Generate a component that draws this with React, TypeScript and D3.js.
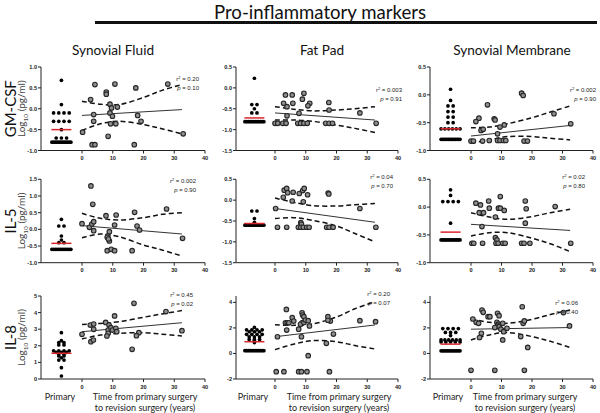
import React from "react";
import * as d3 from "d3";

// ---------- text ----------
const chartTitle = "Pro-inflammatory markers";
const columns = ["Synovial Fluid", "Fat Pad", "Synovial Membrane"];
const markers = ["GM-CSF", "IL-5", "IL-8"];
const xTicks = [0, 10, 20, 30, 40];
const primaryLabel = "Primary";
const timeLabel = ["Time from primary surgery", "to revision surgery (years)"];

// ---------- axes ----------
const yDomains = [
  [[-1, 1], [-1.5, 0.5], [-1, 0.5]],
  [[-1, 1.5], [-1.5, 0.5], [-1, 0.5]],
  [[0, 5], [-2, 4.5], [-2, 4.5]],
];
const yTicks = [
  [[-1, -0.5, 0, 0.5, 1], [-1.5, -1, -0.5, 0, 0.5], [-1, -0.5, 0, 0.5]],
  [[-1, -0.5, 0, 0.5, 1, 1.5], [-1.5, -1, -0.5, 0, 0.5], [-1, -0.5, 0, 0.5]],
  [[0, 1, 2, 3, 4, 5], [-2, 0, 2, 4], [-2, 0, 2, 4]],
];

// ---------- statistics ----------
const r2Values = [["0.20", "0.003", "0.002"], ["0.002", "0.04", "0.02"], ["0.45", "0.20", "0.06"]];
const pValues = [["0.10", "0.91", "0.90"], ["0.90", "0.70", "0.80"], ["0.02", "0.07", "0.40"]];
const medians = [[-0.5, -0.72, -0.61], [-0.42, -0.56, -0.45], [1.55, 0.92, 0.73]];

// ---------- primary (log10 pg/ml) ----------
const gmSfPrimary = [0.68, 0.1, -0.1, -0.1, -0.1, -0.1, -0.3, -0.3, -0.3, -0.3, -0.5, -0.7, -0.7, -0.7,
  -0.8, -0.8, -0.8, -0.8, -0.8, -0.8, -0.8, -0.8, -0.8, -0.8, -0.8, -0.8];
const gmFpPrimary = [0.23, -0.4, -0.4, -0.5, -0.6, -0.6,
  -0.81, -0.81, -0.81, -0.81, -0.81, -0.81, -0.81, -0.81, -0.81, -0.81, -0.81, -0.81];
const gmSmPrimary = [0.1, -0.1, -0.2, -0.2, -0.3, -0.3, -0.4, -0.4, -0.5, -0.5,
  -0.61, -0.61, -0.61, -0.61, -0.61, -0.61,
  -0.8, -0.8, -0.8, -0.8, -0.8, -0.8, -0.8, -0.8, -0.8, -0.8, -0.8, -0.8, -0.8, -0.8];
const il5SfPrimary = [0.3, 0.1, 0.1, -0.2, -0.32, -0.4, -0.4,
  -0.6, -0.6, -0.6, -0.6, -0.6, -0.6, -0.6, -0.6, -0.6, -0.6, -0.6, -0.6];
const il5FpPrimary = [-0.26, -0.26, -0.44, -0.53,
  -0.6, -0.6, -0.6, -0.6, -0.6, -0.6, -0.6, -0.6, -0.6, -0.6, -0.6, -0.6];
const il5SmPrimary = [0.31, 0.21, 0.1, 0.1, 0.1, 0.1, -0.29,
  -0.59, -0.59, -0.59, -0.59, -0.59, -0.59, -0.59, -0.59, -0.59, -0.59, -0.59, -0.59, -0.59, -0.59];
const il8SfPrimary = [2.79, 2.31, 2.2, 2.2, 2.05, 2.05, 1.7, 1.7, 1.7, 1.7, 1.6, 1.6, 1.6, 1.5, 1.5,
  1.39, 1.39, 1.28, 1.14, 1.14, 0.68, 0.18];
const il8FpPrimary = [2.04, 1.85, 1.85, 1.85, 1.85, 1.7, 1.7, 1.7, 1.5, 1.5, 1.5, 1.5, 1.3, 1.3, 1.3,
  1.1, 1.1, 1.1, 1.0, 0.85,
  0.22, 0.22, 0.22, 0.22, 0.22, 0.22, 0.22, 0.22, 0.22, 0.22, 0.22, 0.22];
const il8SmPrimary = [1.95, 1.95, 1.95, 1.95, 1.65, 1.65, 1.65, 1.4, 1.06, 1.06, 1.06, 1.06, 1.06, 1.06,
  0.9, 0.9, 0.9, 0.9, 0.9,
  0.21, 0.21, 0.21, 0.21, 0.21, 0.21, 0.21, 0.21, 0.21, 0.21, 0.21, 0.21, 0.21];

// ---------- revision: [years since primary, log10 pg/ml] ----------
const gmSfPoints = [[4.2, 0.58], [10.7, 0.59], [27.9, 0.59], [17.5, 0.5], [7.9, 0.4], [7.9, 0.35], [2.8, 0.22],
  [9.1, 0.11], [9.6, 0.02], [11.5, 0.04], [3.8, -0.14], [9.1, -0.1], [9.9, -0.18], [18.1, -0.16], [3.8, -0.3],
  [19.2, -0.3], [9.3, -0.36], [11, -0.36], [0.2, -0.56], [32.9, -0.6], [8.5, -0.66], [3.3, -0.86], [4.2, -0.86], [17, -0.86]];
const gmFpPoints = [[3.4, -0.17], [5.6, -0.17], [9.4, -0.13], [8.9, -0.27], [11.3, -0.37], [10.7, -0.43], [2.8, -0.37],
  [3.9, -0.45], [5.8, -0.37], [17.5, -0.35], [17.6, -0.53], [27.6, -0.6], [7.8, -0.61], [3.9, -0.67], [0, -0.85],
  [0.9, -0.85], [2.5, -0.85], [3.6, -0.85], [7.4, -0.85], [8.3, -0.85], [9.4, -0.85], [10.5, -0.85], [16.5, -0.85],
  [17.6, -0.85], [18.7, -0.85], [32.9, -0.85]];
const gmSmPoints = [[16.6, 0.03], [17.1, -0.01], [5.4, -0.18], [2.6, -0.42], [1.6, -0.48], [7.6, -0.43], [7.9, -0.45],
  [10.9, -0.54], [9.5, -0.58], [3.3, -0.64], [4.0, -0.62], [27.2, -0.34], [32.7, -0.52], [8.7, -0.7], [0, -0.83],
  [0.8, -0.83], [3.8, -0.83], [6, -0.82], [8.7, -0.82], [9.5, -0.82], [10.6, -0.82], [11.4, -0.82], [17.4, -0.83], [18.5, -0.83]];
const il5SfPoints = [[2.9, 1.3], [3.5, 0.75], [0, 0.17], [2.4, 0.06], [3.2, 0.16], [3.8, 0.23], [3.8, -0.04], [7.8, 0.41],
  [11.1, 0.43], [17.1, 0.51], [27.5, 0.61], [10.6, 0.13], [17.9, 0.1], [18.7, -0.02], [8.9, -0.07], [8.4, -0.2],
  [8.2, -0.24], [8.9, -0.35], [8.6, -0.29], [32.7, -0.27], [8.2, -0.64], [9.5, -0.6], [10.6, -0.64], [16.3, -0.64]];
const il5FpPoints = [[3.0, 0.24], [3.8, 0.28], [4.1, 0.18], [5.9, 0.19], [7.9, 0.16], [9.0, 0.23], [9.5, 0.28], [10.6, 0.13],
  [17.3, 0.17], [17.5, 0.15], [2.7, 0.07], [5.6, -0.02], [9.2, -0.04], [0.2, -0.2], [27.6, -0.2], [8.4, -0.54], [8.6, -0.58],
  [0.8, -0.65], [3.8, -0.65], [7.6, -0.65], [8.4, -0.65], [9.2, -0.65], [10.3, -0.65], [11.1, -0.65], [16.8, -0.65],
  [17.6, -0.65], [18.9, -0.65], [32.8, -0.65]];
const il5SmPoints = [[1.6, 0.07], [3.1, 0.04], [5.8, 0.11], [9.6, 0.19], [17.8, 0.11], [27.6, 0.01], [6, -0.02], [9, -0.02],
  [9.6, -0.02], [10.9, -0.06], [18.1, -0.03], [2.7, -0.1], [4.1, -0.1], [8, -0.18], [17.8, -0.29], [3.6, -0.35], [8, -0.55],
  [8.5, -0.59], [0.3, -0.65], [0.9, -0.65], [3.8, -0.65], [8.2, -0.65], [8.9, -0.65], [10.4, -0.65], [11.2, -0.65],
  [16.6, -0.65], [17.4, -0.65], [19.3, -0.65], [32.7, -0.65]];
const il8SfPoints = [[16.9, 4.56], [27.3, 4.06], [10.6, 3.8], [7.7, 3.41], [2.7, 3.25], [3.8, 3.31], [3.8, 2.99], [8.8, 3.25],
  [8.5, 2.95], [9.4, 3.09], [9.9, 2.95], [11, 3.05], [11.3, 2.85], [8.5, 2.75], [8.1, 2.59], [18.5, 2.79], [17.7, 2.61],
  [0, 2.69], [2.9, 2.25], [3.7, 2.35], [32.5, 2.91], [16.3, 1.79]];
const il8FpPoints = [[3.7, 3.45], [8.8, 3.19], [9.0, 3.01], [9.4, 2.88], [5.6, 2.8], [6.1, 2.54], [3.4, 2.4], [4.0, 2.4],
  [4.5, 2.4], [8.8, 2.4], [8.3, 2.28], [9.4, 2.43], [9.9, 2.62], [10.8, 2.57], [11.2, 2.15], [17.2, 2.88], [18, 2.54],
  [17.2, 2.6], [27.6, 2.57], [32.7, 2.49], [7.7, 1.9], [3.8, 1.83], [19, 1.52], [0.8, 1.31], [8.6, 1.31], [16.7, 0.79],
  [10.8, -0.17], [0.4, -1.43], [2.9, -1.43], [7.7, -1.43], [8.6, -1.43], [10.4, -1.43], [17.7, -1.43]];
const il8SmPoints = [[3.6, 3.4], [4.0, 3.22], [16.8, 3.66], [30.3, 3.2], [0.6, 2.7], [1.7, 2.44], [2.5, 2.36], [5.6, 2.88],
  [6.2, 2.88], [8.7, 3.14], [9.2, 2.96], [8.5, 2.44], [8.9, 2.29], [8.7, 2.16], [9.2, 2.1], [10.4, 2.36], [7.8, 2.03],
  [9.8, 1.9], [10.7, 1.71], [11.8, 1.97], [17.1, 2.36], [17.5, 2.55], [3.4, 1.58], [2.8, 1.25], [10.4, 1.06], [16.3, 1.32],
  [18.6, 0.47], [32.3, 2.16], [0, -1.32], [7.8, -1.32], [17.5, -1.32]];

// ---------- regression line (value at fitX) and 95% CI (values at ciX) ----------
const fitX = [0, 32.5];
const ciX = [0, 6, 12, 20, 26, 32.5];
const gmSfFit = [-0.16, -0.02];
const gmSfUpper = [0.18, 0.11, 0.1, 0.27, 0.44, 0.58];
const gmSfLower = [-0.52, -0.36, -0.3, -0.38, -0.48, -0.6];
const gmFpFit = [-0.6, -0.77];
const gmFpUpper = [-0.45, -0.51, -0.55, -0.53, -0.5, -0.45];
const gmFpLower = [-0.77, -0.77, -0.8, -0.89, -0.97, -1.07];
const gmSmFit = [-0.74, -0.55];
const gmSmUpper = [-0.59, -0.58, -0.52, -0.41, -0.31, -0.2];
const gmSmLower = [-0.87, -0.81, -0.75, -0.75, -0.78, -0.81];
const il5SfFit = [0.11, -0.14];
const il5SfUpper = [0.48, 0.33, 0.28, 0.35, 0.45, 0.5];
const il5SfLower = [-0.25, -0.14, -0.22, -0.47, -0.62, -0.8];
const il5FpFit = [-0.2, -0.53];
const il5FpUpper = [0.05, -0.05, -0.13, -0.14, -0.11, -0.08];
const il5FpLower = [-0.44, -0.42, -0.48, -0.62, -0.8, -1.0];
const il5SmFit = [-0.31, -0.42];
const il5SmUpper = [-0.1, -0.18, -0.22, -0.17, -0.1, -0.04];
const il5SmLower = [-0.52, -0.46, -0.46, -0.56, -0.66, -0.8];
const il8SfFit = [2.85, 3.39];
const il8SfUpper = [3.29, 3.35, 3.45, 3.72, 3.92, 4.12];
const il8SfLower = [2.41, 2.65, 2.75, 2.79, 2.7, 2.59];
const il8FpFit = [1.31, 2.23];
const il8FpUpper = [2.25, 2.2, 2.3, 2.85, 3.5, 4.05];
const il8FpLower = [0.3, 0.72, 1.0, 0.92, 0.62, 0.35];
const il8SmFit = [1.9, 2.03];
const il8SmUpper = [2.7, 2.44, 2.36, 2.67, 3.05, 3.4];
const il8SmLower = [1.06, 1.45, 1.64, 1.32, 0.95, 0.47];

const panelData = [
  [
    { primary: gmSfPrimary, points: gmSfPoints, fit: gmSfFit, upper: gmSfUpper, lower: gmSfLower },
    { primary: gmFpPrimary, points: gmFpPoints, fit: gmFpFit, upper: gmFpUpper, lower: gmFpLower },
    { primary: gmSmPrimary, points: gmSmPoints, fit: gmSmFit, upper: gmSmUpper, lower: gmSmLower },
  ],
  [
    { primary: il5SfPrimary, points: il5SfPoints, fit: il5SfFit, upper: il5SfUpper, lower: il5SfLower },
    { primary: il5FpPrimary, points: il5FpPoints, fit: il5FpFit, upper: il5FpUpper, lower: il5FpLower },
    { primary: il5SmPrimary, points: il5SmPoints, fit: il5SmFit, upper: il5SmUpper, lower: il5SmLower },
  ],
  [
    { primary: il8SfPrimary, points: il8SfPoints, fit: il8SfFit, upper: il8SfUpper, lower: il8SfLower },
    { primary: il8FpPrimary, points: il8FpPoints, fit: il8FpFit, upper: il8FpUpper, lower: il8FpLower },
    { primary: il8SmPrimary, points: il8SmPoints, fit: il8SmFit, upper: il8SmUpper, lower: il8SmLower },
  ],
];

// ---------- layout ----------
const W = 600;
const H = 413;
const colAxisX = [41, 236, 430];
const colX0 = [82, 275, 471];
const colX40 = [205, 398, 593];
const rowTop = [67, 179.3, 296];
const rowBottom = [150.5, 262.7, 379];
const primaryPos = -6.7; // x position (in years-scale units) of the primary column
const colTitleX = [113, 322, 512];
const annoDx = [[-6, 4, 3], [-9, -5, -8], [-12, -8, -15]];
const annoDy = [[12, 23, 23], [2, -2, -2], [-1, -2, 7]];
const primaryLabelX = [60, 253, 448];
const timeLabelX = [145, 339, 525];

const SANS = "Lato, 'Open Sans', sans-serif";
const ARIAL = "'Liberation Sans', Arial, sans-serif";
const RED = "#d9262c";

function swarm(values: number[]) {
  const groups = d3.groups(values, (v) => v);
  const out: { v: number; dx: number }[] = [];
  groups.forEach(([v, arr]) => {
    const n = arr.length;
    const sp = n > 1 ? Math.min(5.2, 19 / (n - 1)) : 0;
    arr.forEach((_, i) => out.push({ v, dx: (i - (n - 1) / 2) * sp }));
  });
  return out;
}

function fmtTick(v: number, row: number) {
  return row < 2 ? v.toFixed(1) : String(v);
}

function Panel({ row, col }: { row: number; col: number }) {
  const d = panelData[row][col];
  const x = d3.scaleLinear().domain([0, 40]).range([colX0[col], colX40[col]]);
  const y = d3.scaleLinear().domain(yDomains[row][col]).range([rowBottom[row], rowTop[row]]);
  const axisX = colAxisX[col];
  const bottom = rowBottom[row];
  const top = rowTop[row];
  const cx = x(primaryPos);
  const ciLine = d3
    .line<number>()
    .x((_, i) => x(ciX[i]))
    .y((v) => y(v))
    .curve(d3.curveCatmullRom.alpha(0.5));
  const fitLine = d3
    .line<number>()
    .x((_, i) => x(fitX[i]))
    .y((v) => y(v));
  const sw = swarm(d.primary);
  const ax = colX40[col] + annoDx[row][col];
  const ay = top + annoDy[row][col];
  return (
    <g>
      {/* axes */}
      <line x1={axisX} x2={axisX} y1={top} y2={bottom} stroke="#222" strokeWidth={1} />
      <line x1={axisX} x2={x(40)} y1={bottom} y2={bottom} stroke="#222" strokeWidth={1} />
      {yTicks[row][col].map((t) => (
        <g key={"y" + t}>
          <line x1={axisX - 3} x2={axisX} y1={y(t)} y2={y(t)} stroke="#222" strokeWidth={1} />
          <text x={axisX - 4} y={y(t) + 2} textAnchor="end" fontFamily={ARIAL} fontWeight="bold" fontSize={5.6} fill="#222">
            {fmtTick(t, row)}
          </text>
        </g>
      ))}
      {xTicks.map((t) => (
        <g key={"x" + t}>
          <line x1={x(t)} x2={x(t)} y1={bottom} y2={bottom + 3} stroke="#222" strokeWidth={1} />
          <text x={x(t)} y={bottom + 9.5} textAnchor="middle" fontFamily={ARIAL} fontWeight="bold" fontSize={5.6} fill="#222">
            {t}
          </text>
        </g>
      ))}
      {/* primary */}
      {sw.map((p, i) => (
        <circle key={"p" + i} cx={cx + p.dx} cy={y(p.v)} r={1.85} fill="#000" />
      ))}
      <line x1={cx - 10} x2={cx + 10} y1={y(medians[row][col])} y2={y(medians[row][col])} stroke={RED} strokeWidth={1.5} />
      {/* regression */}
      <path d={ciLine(d.upper) || ""} fill="none" stroke="#111" strokeWidth={1.5} strokeDasharray="5,3" />
      <path d={ciLine(d.lower) || ""} fill="none" stroke="#111" strokeWidth={1.5} strokeDasharray="5,3" />
      <path d={fitLine(d.fit) || ""} fill="none" stroke="#333" strokeWidth={1} />
      {d.points.map((p, i) => (
        <circle key={"s" + i} cx={x(p[0])} cy={y(p[1])} r={2.3} fill="#8f8f8f" stroke="#262626" strokeWidth={1.1} />
      ))}
      {/* annotation */}
      <text x={ax} y={ay + 2} textAnchor="end" fontFamily={ARIAL} fontSize={6} fill="#222">
        r<tspan dy={-2} fontSize={4}>2</tspan>
        <tspan dy={2}>{" = " + r2Values[row][col]}</tspan>
      </text>
      <text x={ax} y={ay + 10.5} textAnchor="end" fontFamily={ARIAL} fontSize={6} fill="#222">
        <tspan fontStyle="italic">p</tspan>
        {" = " + pValues[row][col]}
      </text>
    </g>
  );
}

export default function App() {
  return (
    <svg
      width={W}
      height={H}
      viewBox={`0 0 ${W} ${H}`}
      style={{ position: "absolute", left: 0, top: 0, background: "#fff" }}
    >
      <rect width={W} height={H} fill="#fff" />
      <text x={320} y={18.6} textAnchor="middle" fontFamily={SANS} fontSize={18.6} fill="#111">
        {chartTitle}
      </text>
      <line x1={95} x2={597} y1={22.5} y2={22.5} stroke="#111" strokeWidth={3} />
      {columns.map((c, i) => (
        <text key={c} x={colTitleX[i]} y={54.5} textAnchor="middle" fontFamily={SANS} fontSize={13.6} fill="#111">
          {c}
        </text>
      ))}
      {markers.map((m, r) => {
        const cy = (rowTop[r] + rowBottom[r]) / 2;
        return (
          <g key={m}>
            <text transform={`translate(15.5,${cy}) rotate(-90)`} textAnchor="middle" fontFamily={SANS} fontSize={15} fill="#111">
              {m}
            </text>
            <text transform={`translate(25,${cy}) rotate(-90)`} textAnchor="middle" fontFamily={SANS} fontSize={10} fill="#444">
              Log<tspan dy={2.5} fontSize={6.5}>10</tspan>
              <tspan dy={-2.5}> (pg/ml)</tspan>
            </text>
          </g>
        );
      })}
      {[0, 1, 2].map((r) => [0, 1, 2].map((c) => <Panel key={r + "-" + c} row={r} col={c} />))}
      {[0, 1, 2].map((c) => (
        <g key={"bl" + c}>
          <text x={primaryLabelX[c]} y={400} textAnchor="middle" fontFamily={SANS} fontSize={9} fill="#222">
            {primaryLabel}
          </text>
          <text x={timeLabelX[c]} y={400} textAnchor="middle" fontFamily={SANS} fontSize={9} fill="#222">
            {timeLabel[0]}
          </text>
          <text x={timeLabelX[c]} y={410.5} textAnchor="middle" fontFamily={SANS} fontSize={9} fill="#222">
            {timeLabel[1]}
          </text>
        </g>
      ))}
    </svg>
  );
}
